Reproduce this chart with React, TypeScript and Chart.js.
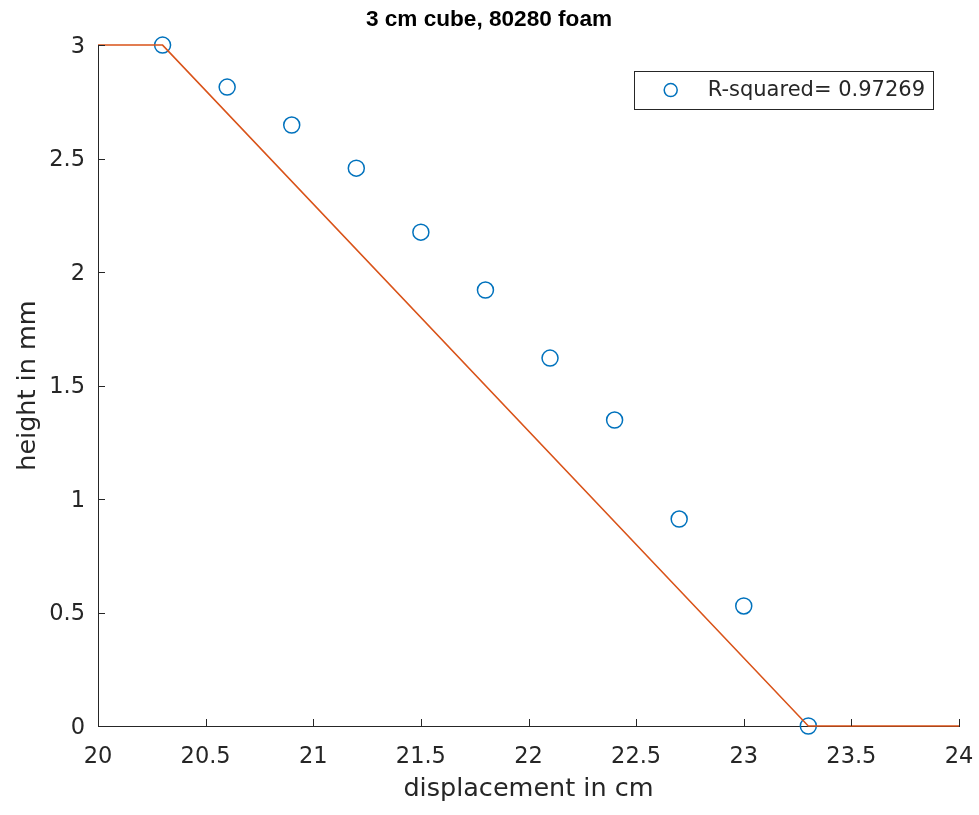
import React, { useEffect, useRef } from "react";
import { Chart, registerables } from "chart.js";

Chart.register(...registerables);

// ---- data ----
const titleText = "3 cm cube, 80280 foam";
const xAxisTitle = "displacement in cm";
const yAxisTitle = "height in mm";
const legendLabel = "R-squared= 0.97269";

const displacementCm = [20.3, 20.6, 20.9, 21.2, 21.5, 21.8, 22.1, 22.4, 22.7, 23.0, 23.3];
const heightMm = [3.0, 2.815, 2.648, 2.458, 2.176, 1.921, 1.621, 1.348, 0.912, 0.529, 0.0];

const fitX = [20, 20.3, 23.3, 24];
const fitY = [3, 3, 0, 0];

const xTicks = [20, 20.5, 21, 21.5, 22, 22.5, 23, 23.5, 24];
const yTicks = [0, 0.5, 1, 1.5, 2, 2.5, 3];

// ---- styles ----
const AXIS = "#262626";
const BLUE = "#0072BD";
const ORANGE = "#D95319";
const TICK_FONT = { family: "DejaVu Sans", size: 22.5 };
const LABEL_FONT = { family: "DejaVu Sans", size: 25.5 };

const matlabDecor = {
  id: "matlabDecor",
  afterDraw(chart: any) {
    const { ctx, chartArea, scales } = chart;
    const xs = scales.x;
    const ys = scales.y;
    ctx.save();
    ctx.strokeStyle = AXIS;
    ctx.lineWidth = 1;
    // inward tick marks
    xs.ticks.forEach((t: any) => {
      const px = Math.round(xs.getPixelForValue(t.value)) + 0.5;
      ctx.beginPath();
      ctx.moveTo(px, chartArea.bottom);
      ctx.lineTo(px, chartArea.bottom - 7);
      ctx.stroke();
    });
    ys.ticks.forEach((t: any) => {
      const py = Math.round(ys.getPixelForValue(t.value)) + 0.5;
      ctx.beginPath();
      ctx.moveTo(chartArea.left, py);
      ctx.lineTo(chartArea.left + 7, py);
      ctx.stroke();
    });

    // legend box
    const ds = chart.data.datasets[0];
    ctx.font = "21px 'DejaVu Sans'";
    const tw = ctx.measureText(ds.label).width;
    const w = 74 + tw + 8;
    const h = 38;
    const right = chartArea.right - 26;
    const top = chartArea.top + 26;
    const left = right - w;
    ctx.fillStyle = "#ffffff";
    ctx.fillRect(left, top, w, h);
    ctx.strokeStyle = AXIS;
    ctx.lineWidth = 1;
    ctx.strokeRect(Math.round(left) + 0.5, Math.round(top) + 0.5, Math.round(w), h);
    // marker
    ctx.strokeStyle = BLUE;
    ctx.lineWidth = 1.5;
    ctx.beginPath();
    ctx.arc(left + 37, top + h / 2, 6.5, 0, Math.PI * 2);
    ctx.stroke();
    // text
    ctx.fillStyle = AXIS;
    ctx.textBaseline = "middle";
    ctx.textAlign = "left";
    ctx.fillText(ds.label, left + 74, top + h / 2);
    ctx.restore();
  },
};

export default function App() {
  const ref = useRef<HTMLCanvasElement | null>(null);

  useEffect(() => {
    if (!ref.current) return;
    const chart = new Chart(ref.current, {
      type: "scatter",
      data: {
        datasets: [
          {
            label: legendLabel,
            data: displacementCm.map((x, i) => ({ x, y: heightMm[i] })),
            showLine: false,
            pointStyle: "circle",
            pointRadius: 8,
            pointBorderWidth: 1.5,
            pointBorderColor: BLUE,
            pointBackgroundColor: "rgba(0,0,0,0)",
            order: 1,
            clip: false,
          } as any,
          {
            label: "fit",
            data: fitX.map((x, i) => ({ x, y: fitY[i] })),
            showLine: true,
            borderColor: ORANGE,
            borderWidth: 1.5,
            pointRadius: 0,
            fill: false,
            tension: 0,
            order: 0,
            clip: false,
          } as any,
        ],
      },
      options: {
        responsive: false,
        animation: false,
        devicePixelRatio: 1,
        layout: { padding: { left: 19, right: 20, top: 0, bottom: 0 } },
        plugins: {
          legend: { display: false },
          tooltip: { enabled: false },
          title: {
            display: true,
            text: titleText,
            color: "#000000",
            font: { family: "Liberation Sans", size: 22.6, weight: "bold" },
            padding: { top: 6, bottom: 12 },
          },
        },
        scales: {
          x: {
            type: "linear",
            position: "bottom",
            min: 20,
            max: 24,
            grid: { display: false, drawTicks: false },
            border: { display: true, color: AXIS, width: 1 },
            ticks: {
              color: AXIS,
              font: TICK_FONT,
              padding: 18,
              autoSkip: false,
              maxRotation: 0,
              callback: (v: any) => String(v),
            },
            title: {
              display: true,
              text: xAxisTitle,
              color: AXIS,
              font: LABEL_FONT,
              padding: { top: 0, bottom: 10 },
            },
            afterBuildTicks: (s: any) => {
              s.ticks = xTicks.map((v) => ({ value: v }));
            },
            afterFit: (s: any) => {
              s.height = 89;
              s.paddingLeft = 0;
              s.paddingRight = 0;
            },
          },
          y: {
            type: "linear",
            position: "left",
            min: 0,
            max: 3,
            grid: { display: false, drawTicks: false },
            border: { display: true, color: AXIS, width: 1 },
            ticks: {
              color: AXIS,
              font: TICK_FONT,
              padding: 13,
              labelOffset: 2,
              callback: (v: any) => String(v),
            },
            title: {
              display: true,
              text: yAxisTitle,
              color: AXIS,
              font: LABEL_FONT,
              padding: { top: -6, bottom: 0 },
            },
            afterBuildTicks: (s: any) => {
              s.ticks = yTicks.map((v) => ({ value: v }));
            },
            afterFit: (s: any) => {
              s.width = 79;
              s.paddingTop = 0;
              s.paddingBottom = 0;
            },
          },
        },
      } as any,
      plugins: [matlabDecor],
    });
    return () => chart.destroy();
  }, []);

  return (
    <div style={{ position: "absolute", left: 0, top: 0, width: 979, height: 815, background: "#fff" }}>
      <canvas ref={ref} width={979} height={815} style={{ display: "block" }} />
    </div>
  );
}
